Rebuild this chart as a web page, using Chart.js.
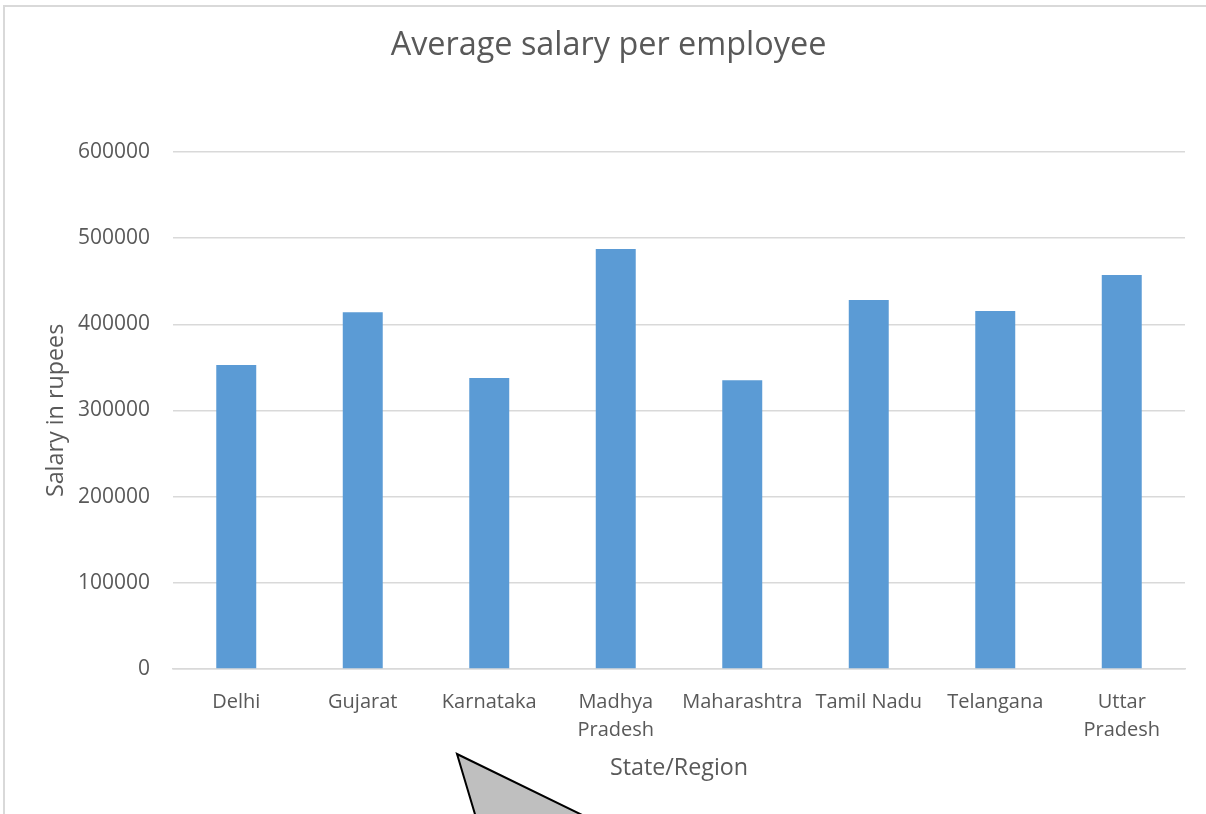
<!DOCTYPE html>
<html>
<head>
<meta charset="utf-8">
<title>Average salary per employee</title>
<script src="https://cdn.jsdelivr.net/npm/chart.js@4.4.1/dist/chart.umd.min.js"></script>
<style>
    html, body { margin: 0; padding: 0; background: #fff; overflow: hidden; }
    #wrap { position: relative; width: 1206px; height: 814px; }
    #frame {
        position: absolute; left: 3px; top: 5px; width: 1300px; height: 900px;
        border: 2px solid #d9d9d9; box-sizing: border-box;
    }
    #canvas-chart { position: absolute; left: 0; top: 0; }
</style>
</head>
<body>
<div id="wrap">
    <div id="frame"></div>
    <canvas id="canvas-chart" width="1206" height="814"></canvas>
</div>
<script>
// values
const categories = [
    'Delhi', 'Gujarat', 'Karnataka', ['Madhya', 'Pradesh'],
    'Maharashtra', 'Tamil Nadu', 'Telangana', ['Uttar', 'Pradesh']
];
const salaries = [352700, 413800, 337700, 487200, 335000, 428100, 415300, 457100];
const y_ticks = [0, 100000, 200000, 300000, 400000, 500000, 600000];

const text_color = '#595959';
const font_family = '"Open Sans", "Noto Sans", sans-serif';

// grey callout shape that sits over the bottom of the chart (not data)
const callout_plugin = {
    id: 'callout',
    afterDraw(chart) {
        const ctx = chart.ctx;
        ctx.save();
        ctx.beginPath();
        ctx.moveTo(457, 754);
        ctx.lineTo(615, 831);
        ctx.lineTo(480, 831);
        ctx.closePath();
        ctx.fillStyle = '#bfbfbf';
        ctx.fill();
        ctx.lineWidth = 2;
        ctx.strokeStyle = '#000';
        ctx.stroke();
        ctx.restore();
    }
};

new Chart(document.getElementById('canvas-chart'), {
    type: 'bar',
    data: {
        labels: categories,
        datasets: [{
            data: salaries,
            backgroundColor: '#5b9bd5',
            categoryPercentage: 1,
            barPercentage: 0.316
        }]
    },
    options: {
        responsive: false,
        animation: false,
        layout: {
            padding: { left: 32, right: 21, top: 26, bottom: 32 }
        },
        plugins: {
            legend: { display: false },
            tooltip: { enabled: false },
            title: {
                display: true,
                text: 'Average salary per employee',
                color: text_color,
                font: { family: font_family, size: 32.4, weight: 'normal', lineHeight: 1.2 },
                padding: { top: 0, bottom: 87 }
            }
        },
        scales: {
            x: {
                grid: { display: false, drawTicks: false },
                border: { display: true, color: '#d9d9d9', width: 1.5 },
                ticks: {
                    color: text_color,
                    font: { family: font_family, size: 20, lineHeight: '28px' },
                    padding: 19,
                    maxRotation: 0,
                    autoSkip: false
                },
                title: {
                    display: true,
                    text: 'State/Region',
                    color: text_color,
                    font: { family: font_family, size: 23.3, lineHeight: '28px' },
                    padding: 0
                },
                // chart.js counts the tick padding twice; fix the height by hand
                afterFit: axis => { axis.height = 113; }
            },
            y: {
                min: 0,
                max: 600000,
                afterBuildTicks: axis => { axis.ticks = y_ticks.map(v => ({ value: v })); },
                grid: { color: '#d9d9d9', lineWidth: 1.5, drawTicks: false },
                border: { display: false },
                ticks: {
                    color: text_color,
                    font: { family: font_family, size: 21 },
                    padding: 23,
                    callback: v => String(v)
                },
                title: {
                    display: true,
                    text: 'Salary in rupees',
                    color: text_color,
                    font: { family: font_family, size: 23.3, lineHeight: '28px' },
                    padding: { top: 10, bottom: 0 }
                },
                afterFit: axis => { axis.width = 141; }
            }
        }
    },
    plugins: [callout_plugin]
});
</script>
</body>
</html>
